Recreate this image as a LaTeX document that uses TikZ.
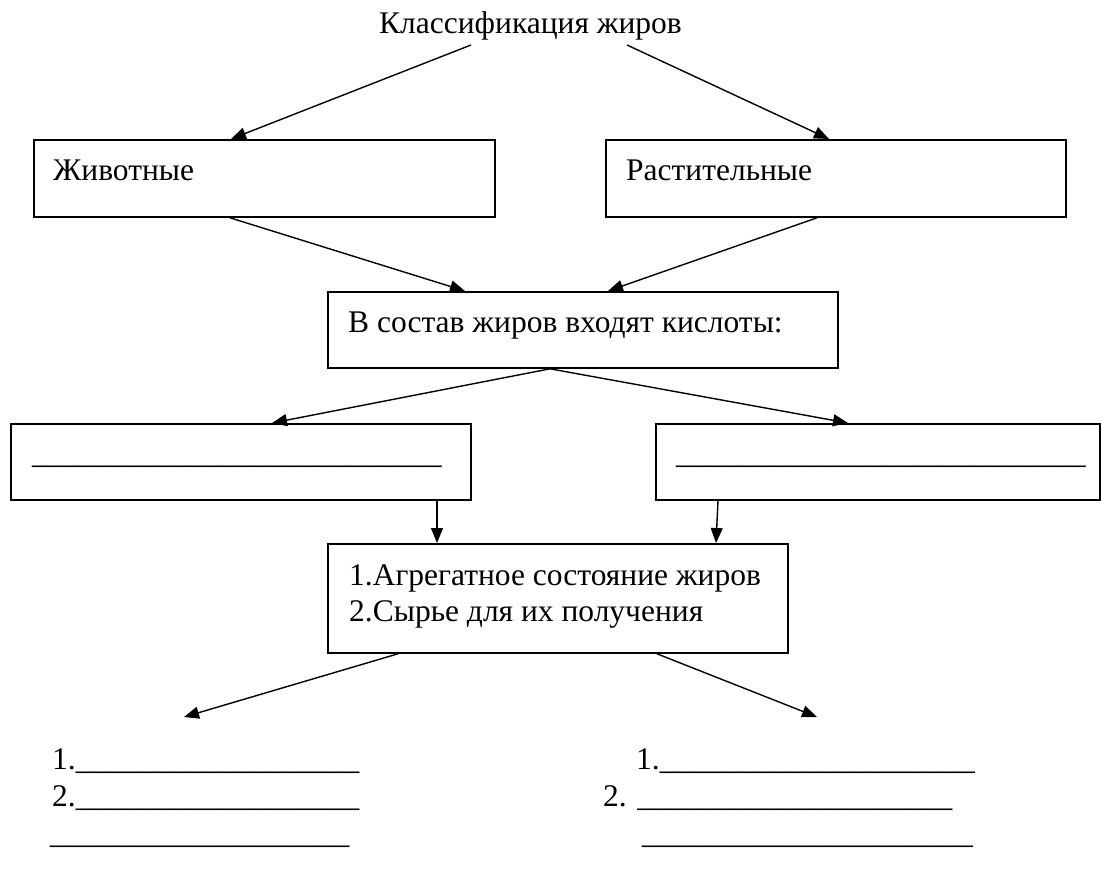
\documentclass[tikz,border=0pt]{standalone}
\usepackage{fontspec}
\setmainfont{Liberation Serif}
\usetikzlibrary{arrows.meta,calc}
\newcount\uscnt
\newcommand\unders[1]{\uscnt=0 \loop\ifnum\uscnt<#1 \_\advance\uscnt by 1 \repeat}
\tikzset{
  box/.style={draw, line width=1.8pt, rectangle, inner sep=0pt, anchor=north west},
  txt/.style={anchor=base west, inner sep=0pt, font=\fontsize{31.5}{36}\selectfont},
  conn/.style={line width=1.4pt, -{Triangle[length=15pt,width=12pt]}}
}
\begin{document}
\begin{tikzpicture}[x=1pt,y=-1pt]
\useasboundingbox (0,0) rectangle (1101,881);
% title
\node[txt] (title) at (379,33) {Классификация жиров};
\coordinate (ta) at (471,45);
\coordinate (tb) at (627,45);
% boxes
\node[box, minimum width=461, minimum height=77] (anim) at (33,139) {};
\node[box, minimum width=460, minimum height=77] (plant) at (605,139) {};
\node[box, minimum width=510, minimum height=76] (comp) at (327,291) {};
\node[box, minimum width=460, minimum height=76] (blankL) at (10,423) {};
\node[box, minimum width=444, minimum height=76] (blankR) at (655,423) {};
\node[box, minimum width=460, minimum height=109] (mid) at (327,543) {};
% texts in boxes
\node[txt] (animT) at (53,180) {Животные};
\node[txt] (plantT) at (626,180) {Растительные};
\node[txt] (compT) at (348,332) {В состав жиров входят кислоты:};
\node[txt] (blankLT) at (32,463) {\unders{26}};
\node[txt] (blankRT) at (676,463) {\unders{26}};
\node[txt] (midA) at (349,585) {1.Агрегатное состояние жиров};
\node[txt] (midB) at (349,621) {2.Сырье для их получения};
% bottom lists
\node[txt] (l1) at (52,769) {1.\unders{18}};
\node[txt] (l2) at (52,806) {2.\unders{18}};
\node[txt] (l3) at (50,843) {\unders{19}};
\node[txt] (r1) at (636,769) {1.\unders{20}};
\node[txt] (r2) at (603,806) {2. \unders{20}};
\node[txt] (r3) at (642,843) {\unders{21}};
\coordinate (endL) at (184,717);
\coordinate (endR) at (817,717);
% connectors
\draw[conn] (ta) -- ($(anim.north west)+(198,0)$);
\draw[conn] (tb) -- ($(plant.north west)+(224,0)$);
\draw[conn] ($(anim.south west)+(197,0)$) -- ($(comp.north west)+(138,0)$);
\draw[conn] ($(plant.south west)+(212,0)$) -- ($(comp.north west)+(281,0)$);
\draw[conn] ($(comp.south west)+(223,0)$) -- ($(blankL.north west)+(262,0)$);
\draw[conn] ($(comp.south west)+(223,0)$) -- ($(blankR.north west)+(193,0)$);
\draw[conn] ($(blankL.south west)+(427,0)$) -- ($(mid.north west)+(110,0)$);
\draw[conn] ($(blankR.south west)+(63,0)$) -- ($(mid.north west)+(389,0)$);
\draw[conn] ($(mid.south west)+(71,0)$) -- (endL);
\draw[conn] ($(mid.south west)+(330,0)$) -- (endR);
\end{tikzpicture}
\end{document}
